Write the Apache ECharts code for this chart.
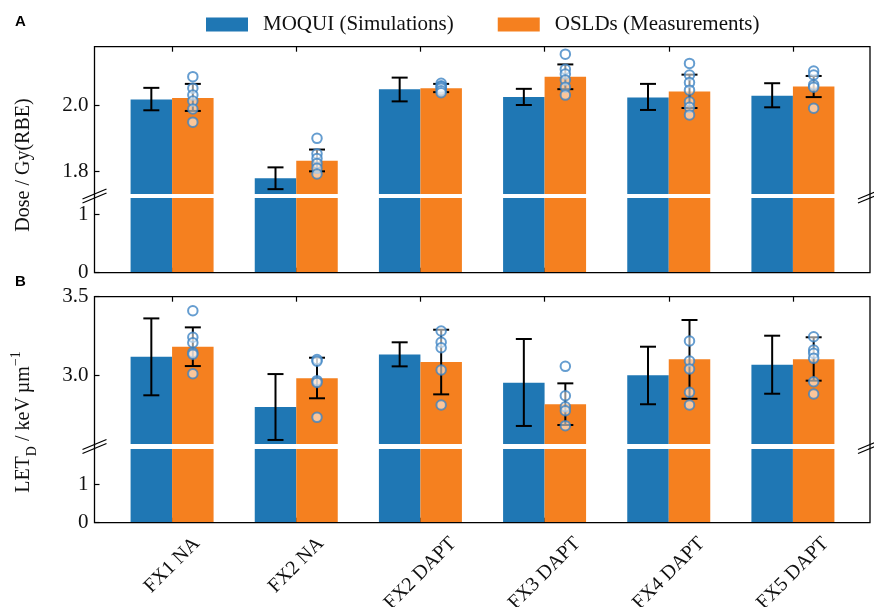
<!DOCTYPE html>
<html>
	<head>
		<meta charset="UTF-8">
		<title>Dose and LETD</title>
		<script type="text/javascript" src="https://cdn.jsdelivr.net/npm/echarts@6/dist/echarts.min.js"></script>
		<style>
			html, body { margin: 0; padding: 0; background: #fff; }
		</style>
	</head>
	<body>
		<div id="chart" style="width:874px; height:607px;"></div>
		<script>
			// fractions
			var categories = ['FX1 NA', 'FX2 NA', 'FX2 DAPT', 'FX3 DAPT', 'FX4 DAPT', 'FX5 DAPT'];

			// panel A: dose / Gy(RBE)
			var doseSim = [2.017, 1.778, 2.048, 2.024, 2.023, 2.028];
			var doseSimLo = [1.984, 1.745, 2.011, 2.000, 1.985, 1.993];
			var doseSimHi = [2.052, 1.811, 2.083, 2.049, 2.064, 2.066];
			var doseMeas = [2.021, 1.831, 2.051, 2.086, 2.041, 2.056];
			var doseMeasLo = [1.982, 1.799, 2.039, 2.048, 1.991, 2.024];
			var doseMeasHi = [2.064, 1.865, 2.064, 2.123, 2.092, 2.088];
			var dosePoints = [
				[2.086, 2.051, 2.030, 2.012, 1.988, 1.948],
				[1.899, 1.852, 1.838, 1.823, 1.808, 1.791],
				[2.066, 2.058, 2.055, 2.051, 2.043, 2.037],
				[2.154, 2.108, 2.094, 2.076, 2.054, 2.030],
				[2.126, 2.091, 2.068, 2.045, 2.010, 1.993, 1.970],
				[2.103, 2.091, 2.061, 2.054, 1.990]
			];

			// panel B: LETD / keV um-1
			var letSim = [3.118, 2.798, 3.133, 2.953, 3.000, 3.068];
			var letSimLo = [2.873, 2.589, 3.057, 2.678, 2.816, 2.883];
			var letSimHi = [3.362, 3.008, 3.210, 3.231, 3.182, 3.252];
			var letMeas = [3.182, 2.981, 3.085, 2.816, 3.102, 3.102];
			var letMeasLo = [3.059, 2.854, 2.879, 2.684, 2.851, 2.966];
			var letMeasHi = [3.305, 3.112, 3.290, 2.949, 3.352, 3.242];
			var letPoints = [
				[3.411, 3.242, 3.207, 3.144, 3.134, 3.010],
				[3.100, 3.090, 2.966, 2.955, 2.733],
				[3.282, 3.210, 3.175, 3.034, 2.811],
				[3.057, 2.870, 2.800, 2.775, 2.680],
				[3.218, 3.091, 3.040, 2.892, 2.811],
				[3.245, 3.161, 3.140, 3.108, 2.959, 2.881]
			];

			// tick labels
			var doseTicksTop = [1.8, 2.0];
			var letTicksTop = [3.0, 3.5];
			var lowTicks = [0, 1];

			var simName = 'MOQUI (Simulations)';
			var measName = 'OSLDs (Measurements)';
			var blue = '#1f77b4';
			var orange = '#f5801f';
			var serif = '"Liberation Serif", "Times New Roman", serif';

			// layout
			var frameL = 94.5, frameR = 870;
			var gridL = 110, gridR = 19;
			var barW = 41.5;
			var panels = [
				{ top: 46.7, brk: 196, bottom: 272.7, gap: 2, letter: 'A', letterY: 22 },
				{ top: 296.7, brk: 446.5, bottom: 522.7, gap: 2.5, letter: 'B', letterY: 282 }
			];

			var chart = echarts.init(document.getElementById('chart'), null, { renderer: 'canvas' });

			function errData(lo, hi) {
				return lo.map(function (v, i) { return [i, v, hi[i]]; });
			}
			function pointData(pts) {
				var out = [];
				pts.forEach(function (list, i) {
					list.forEach(function (v) { out.push([i, v]); });
				});
				return out;
			}
			function errRender(offset) {
				return function (params, api) {
					var i = api.value(0);
					var a = api.coord([i, api.value(1)]);
					var b = api.coord([i, api.value(2)]);
					var x = a[0] + offset;
					var st = { stroke: '#000', lineWidth: 2 };
					return {
						type: 'group',
						children: [
							{ type: 'line', shape: { x1: x, y1: a[1], x2: x, y2: b[1] }, style: st },
							{ type: 'line', shape: { x1: x - 8, y1: a[1], x2: x + 8, y2: a[1] }, style: st },
							{ type: 'line', shape: { x1: x - 8, y1: b[1], x2: x + 8, y2: b[1] }, style: st }
						]
					};
				};
			}

			var grids = [
				{ left: gridL, right: gridR, top: panels[0].top, height: panels[0].brk - panels[0].gap - panels[0].top },
				{ left: gridL, right: gridR, top: panels[0].brk + panels[0].gap, height: panels[0].bottom - panels[0].brk - panels[0].gap },
				{ left: gridL, right: gridR, top: panels[1].top, height: panels[1].brk - panels[1].gap - panels[1].top },
				{ left: gridL, right: gridR, top: panels[1].brk + panels[1].gap, height: panels[1].bottom - panels[1].brk - panels[1].gap }
			];

			function xAx(idx, pos) {
				return {
					type: 'category', gridIndex: idx, position: pos, data: categories,
					axisLine: { show: false },
					axisTick: { show: true, inside: true, length: 5, alignWithLabel: true, lineStyle: { color: '#000', width: 1.2 } },
					axisLabel: { show: false },
					splitLine: { show: false }
				};
			}
			function yAx(idx, min, max, ticks, digits) {
				return {
					type: 'value', gridIndex: idx, min: min, max: max, offset: gridL - frameL,
					axisLine: { show: false },
					axisTick: { show: true, inside: true, length: 5, customValues: ticks, lineStyle: { color: '#000', width: 1.2 } },
					axisLabel: {
						customValues: ticks, margin: 6, color: '#111', fontFamily: serif, fontSize: 21,
						formatter: function (v) { return v.toFixed(digits); }
					},
					splitLine: { show: false }
				};
			}

			var series = [];
			function addPanel(gTop, gLow, sim, simLo, simHi, meas, measLo, measHi, pts) {
				[gTop, gLow].forEach(function (g) {
					series.push({ name: simName, type: 'bar', xAxisIndex: g, yAxisIndex: g, data: sim, barWidth: barW, barGap: '0%', itemStyle: { color: blue }, clip: true, z: 2 });
					series.push({ name: measName, type: 'bar', xAxisIndex: g, yAxisIndex: g, data: meas, barWidth: barW, barGap: '0%', itemStyle: { color: orange }, clip: true, z: 2 });
				});
				series.push({ type: 'custom', xAxisIndex: gTop, yAxisIndex: gTop, renderItem: errRender(-barW / 2), data: errData(simLo, simHi), z: 3, silent: true });
				series.push({ type: 'custom', xAxisIndex: gTop, yAxisIndex: gTop, renderItem: errRender(barW / 2), data: errData(measLo, measHi), z: 3, silent: true });
				series.push({
					type: 'scatter', xAxisIndex: gTop, yAxisIndex: gTop, data: pointData(pts),
					symbol: 'circle', symbolSize: 9.5, symbolOffset: [barW / 2, 0], z: 4,
					itemStyle: { color: 'rgba(255,255,255,0.55)', borderColor: 'rgba(62,132,196,0.8)', borderWidth: 2, opacity: 1 }
				});
			}
			addPanel(0, 1, doseSim, doseSimLo, doseSimHi, doseMeas, doseMeasLo, doseMeasHi, dosePoints);
			addPanel(2, 3, letSim, letSimLo, letSimHi, letMeas, letMeasLo, letMeasHi, letPoints);

			chart.setOption({
				animation: false,
				legend: {
					data: [simName, measName], left: 206, top: 14, padding: 0, icon: 'rect',
					itemWidth: 42, itemHeight: 14, itemGap: 44,
					textStyle: { fontFamily: serif, fontSize: 21, color: '#111', padding: [0, 0, 0, 10] }
				},
				grid: grids,
				xAxis: [xAx(0, 'top'), xAx(1, 'bottom'), xAx(2, 'top'), xAx(3, 'bottom')],
				yAxis: [
					yAx(0, 1.7303, 2.1767, doseTicksTop, 1),
					yAx(1, 0, 1.2726, lowTicks, 0),
					yAx(2, 2.5633, 3.5, letTicksTop, 1),
					yAx(3, 0, 1.904, lowTicks, 0)
				],
				series: series
			});

			// frames, axis breaks, panel letters, axis names, rotated category labels
			var gfx = [];
			panels.forEach(function (p) {
				gfx.push({ type: 'rect', shape: { x: frameL, y: p.top, width: frameR - frameL, height: p.bottom - p.top }, style: { fill: null, stroke: '#000', lineWidth: 1.3 }, z: 10 });
				[frameL, frameR].forEach(function (cx) {
					[-2, 2].forEach(function (d) {
						gfx.push({ type: 'line', shape: { x1: cx - 12, y1: p.brk + d + 5, x2: cx + 12, y2: p.brk + d - 5 }, style: { stroke: '#000', lineWidth: 1.3 }, z: 10 });
					});
				});
				gfx.push({ type: 'text', x: 15, y: p.letterY, style: { text: p.letter, fontFamily: '"Liberation Sans", Arial, sans-serif', fontWeight: 'bold', fontSize: 15, fill: '#000', verticalAlign: 'middle' } });
			});
			gfx.push({ type: 'text', x: 24, y: 165, rotation: Math.PI / 2, style: { text: 'Dose / Gy(RBE)', fontFamily: serif, fontSize: 20, fill: '#111', align: 'center', verticalAlign: 'middle' } });
			gfx.push({
				type: 'text', x: 24, y: 422, rotation: Math.PI / 2,
				style: {
					text: '{a|LET}{sub|D}{a| / keV\u2009\u00b5m}{sup|\u22121}', align: 'center', verticalAlign: 'middle', fill: '#111',
					rich: {
						a: { fontFamily: serif, fontSize: 20, lineHeight: 30, verticalAlign: 'middle' },
						sub: { fontFamily: serif, fontSize: 14, lineHeight: 30, verticalAlign: 'bottom' },
						sup: { fontFamily: serif, fontSize: 14, lineHeight: 30, verticalAlign: 'top' }
					}
				}
			});

			var ctx = document.createElement('canvas').getContext('2d');
			ctx.font = '20px "Liberation Serif"';
			var axisY = chart.convertToPixel({ yAxisIndex: 3 }, 0);
			categories.forEach(function (c) {
				var x = chart.convertToPixel({ xAxisIndex: 3 }, c);
				var w = ctx.measureText(c).width;
				var half = (w + 14) * Math.SQRT1_2 / 2;
				gfx.push({ type: 'text', x: x, y: axisY + 13 + half, rotation: Math.PI / 4, style: { text: c, fontFamily: serif, fontSize: 20, fill: '#111', align: 'center', verticalAlign: 'middle' } });
			});

			chart.setOption({ graphic: gfx });
		</script>
	</body>
</html>
